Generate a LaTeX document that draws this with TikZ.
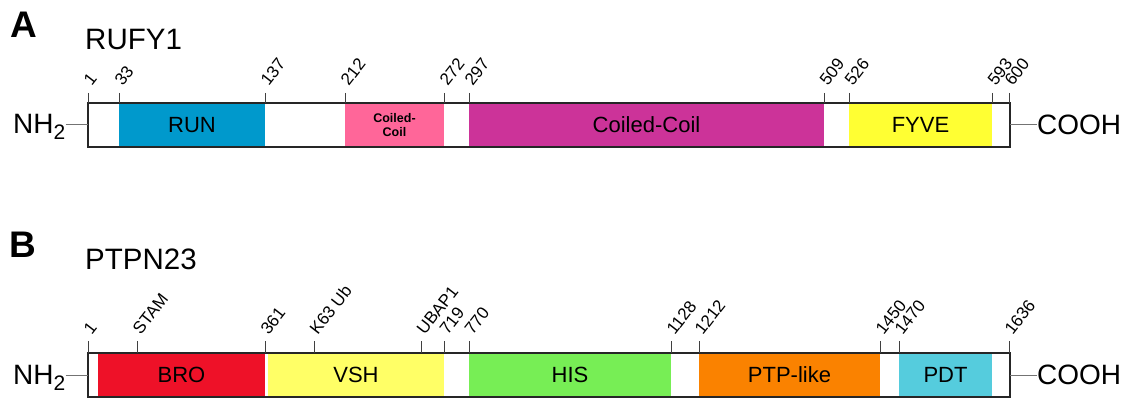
\documentclass[tikz,border=0pt]{standalone}
\usepackage{fontspec}
\setmainfont{Liberation Sans}
\definecolor{cRUN}{RGB}{0,153,204}
\definecolor{cCCs}{RGB}{255,102,153}
\definecolor{cCC}{RGB}{204,51,153}
\definecolor{cFYVE}{RGB}{255,255,51}
\definecolor{cBRO}{RGB}{238,17,40}
\definecolor{cVSH}{RGB}{255,255,102}
\definecolor{cHIS}{RGB}{119,238,85}
\definecolor{cPTP}{RGB}{250,130,0}
\definecolor{cPDT}{RGB}{85,204,221}
\newcommand{\nhtwo}{NH\raisebox{-6pt}{\fontsize{21}{21}\selectfont 2}}
\begin{document}
\begin{tikzpicture}[x=1pt,y=-1pt,
  dom/.style={inner sep=0pt, outer sep=0pt, minimum height=44pt, font=\fontsize{22}{24}\selectfont, anchor=west},
  bar/.style={draw=black!85, line width=1.3pt, inner sep=0pt, outer sep=0pt, minimum height=44pt, minimum width=922pt, anchor=west},
  num/.style={rotate=52, anchor=south west, inner sep=0pt, font=\fontsize{17}{17}\selectfont},
  tickline/.style={draw=black!75, line width=0.8pt},
  term/.style={font=\fontsize{28}{30}\selectfont, inner sep=0pt},
  link/.style={draw=black!55, line width=1pt},
  panel/.style={font=\fontsize{37}{37}\selectfont\bfseries, inner sep=0pt},
  title/.style={font=\fontsize{29.5}{30}\selectfont, inner sep=0pt, anchor=west},
]
\useasboundingbox (0,0) rectangle (1132,398);

% ---------------- Panel A ----------------
\node[panel] (labA) at (24,25) {A};
\node[title] (tA) at (85,39) {RUFY1};

\node[dom, fill=cRUN, minimum width=146pt] (run) at (119,125) {RUN};
\node[dom, fill=cCCs, minimum width=99pt, font=\fontsize{12.5}{14}\selectfont\bfseries, align=center] (ccs) at (345,125) {Coiled-\\Coil};
\node[dom, fill=cCC, minimum width=355pt] (cc) at (469,125) {Coiled-Coil};
\node[dom, fill=cFYVE, minimum width=143pt] (fyve) at (849,125) {FYVE};
\node[bar] (barA) at (88,125) {};

\foreach \x/\t [count=\i] in {88/1,119/33,265/137,345/212,444/272,469/297,824/509,849/526,992/593,1009/600}{
  \draw[tickline] (\x,93) -- (\x,103);
  \node[num] (nA\i) at (\x+4,87) {\t};
}

\node[term, anchor=base west] (nhA) at (13,134) {\nhtwo};
\node[term, anchor=west] (coA) at (1037,125) {COOH};
\draw[link] (nhA.east |- barA.west) -- (barA.west);
\draw[link] (barA.east) -- (coA.west);

% ---------------- Panel B ----------------
\node[panel] (labB) at (23,245) {B};
\node[title] (tB) at (85,259) {PTPN23};

\node[dom, fill=cBRO, minimum width=167pt] (bro) at (98,375) {BRO};
\node[dom, fill=cVSH, minimum width=176pt] (vsh) at (268,375) {VSH};
\node[dom, fill=cHIS, minimum width=202pt] (his) at (469,375) {HIS};
\node[dom, fill=cPTP, minimum width=181pt] (ptp) at (699,375) {PTP-like};
\node[dom, fill=cPDT, minimum width=93pt] (pdt) at (899,375) {PDT};
\node[bar] (barB) at (88,375) {};

\foreach \x/\t [count=\i] in {88/1,137/STAM,265/361,314/K63 Ub,421/UBAP1,444/719,469/770,671/1128,699/1212,880/1450,899/1470,1009/1636}{
  \draw[tickline] (\x,341) -- (\x,353);
  \node[num] (nB\i) at (\x+4,336) {\t};
}

\node[term, anchor=base west] (nhB) at (13,384) {\nhtwo};
\node[term, anchor=west] (coB) at (1037,375) {COOH};
\draw[link] (nhB.east |- barB.west) -- (barB.west);
\draw[link] (barB.east) -- (coB.west);
\end{tikzpicture}
\end{document}
